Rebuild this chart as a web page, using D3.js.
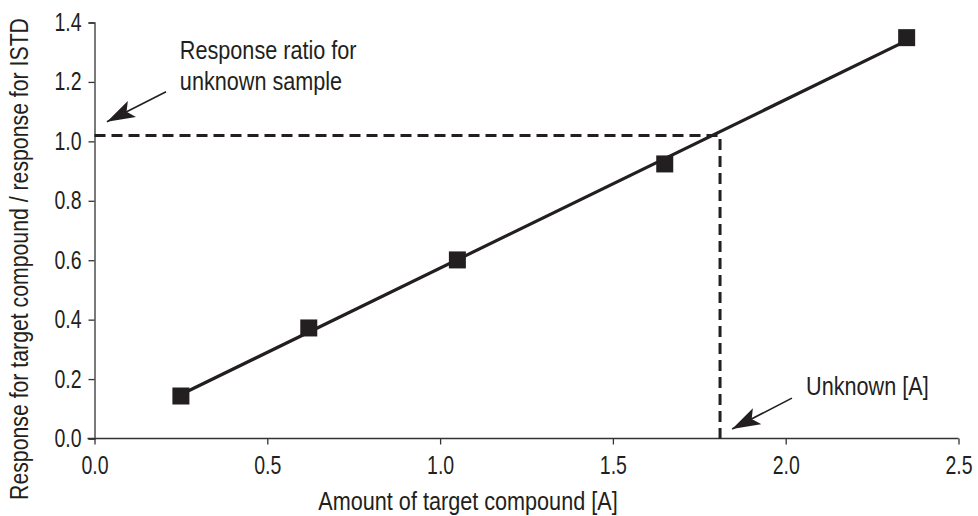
<!DOCTYPE html>
<html>
<head>
<meta charset="utf-8">
<script src="https://cdn.jsdelivr.net/npm/d3@7"></script>
<style>
  body { margin: 0; background: #fff; }
  svg { display: block; font-family: "Liberation Sans", Arial, sans-serif; }
</style>
</head>
<body>
<svg id="chart" width="978" height="516"></svg>
<script>
// calibration standards
const amounts = [0.25, 0.62, 1.05, 1.65, 2.35];
const ratios = [0.143, 0.372, 0.601, 0.924, 1.349];

// unknown sample
const unknownAmount = 1.81;
const unknownRatio = 1.02;

const xTicks = [0, 0.5, 1.0, 1.5, 2.0, 2.5];
const yTicks = [0, 0.2, 0.4, 0.6, 0.8, 1.0, 1.2, 1.4];

const ink = "#231f20";
const width = 978, height = 516;
const margin = {top: 22.5, right: 19.5, bottom: 77.5, left: 94.5};
const fs = "25px";

const svg = d3.select("#chart");

const x = d3.scaleLinear().domain([0, 2.5]).range([margin.left, width - margin.right]);
const y = d3.scaleLinear().domain([0, 1.4]).range([height - margin.bottom, margin.top]);

// the reference uses a condensed face; squeeze Liberation Sans to match
function narrow(sel, k) {
  sel.each(function() {
    const w = this.getComputedTextLength();
    d3.select(this).attr("textLength", w * k).attr("lengthAdjust", "spacingAndGlyphs");
  });
}

// least squares line through the standards
const mx = d3.mean(amounts), my = d3.mean(ratios);
const slope = d3.sum(amounts, (a, i) => (a - mx) * (ratios[i] - my)) / d3.sum(amounts, a => (a - mx) ** 2);
const icpt = my - slope * mx;

// axes
const xAxis = svg.append("g")
    .attr("transform", `translate(0,${y(0)})`)
    .call(d3.axisBottom(x).tickValues(xTicks).tickFormat(d3.format(".1f")).tickSizeOuter(0).tickSize(6).tickPadding(12));
const yAxis = svg.append("g")
    .attr("transform", `translate(${x(0)},0)`)
    .call(d3.axisLeft(y).tickValues(yTicks).tickFormat(d3.format(".1f")).tickSizeOuter(0).tickSize(6).tickPadding(7));

[xAxis, yAxis].forEach(a => {
  a.select(".domain").attr("stroke", "#333").attr("stroke-width", 1.3);
  a.selectAll(".tick line").attr("stroke", "#333").attr("stroke-width", 1.3);
  a.selectAll(".tick text").attr("fill", ink).style("font-size", fs)
    .style("font-family", "'Liberation Sans', Arial, sans-serif")
    .call(narrow, 0.78);
});
xAxis.select(".domain").attr("d", `M${x(0) - 7},0H${x(2.5)}`);

// axis titles
svg.append("text")
    .attr("x", 468)
    .attr("y", 510)
    .attr("text-anchor", "middle")
    .attr("fill", ink)
    .style("font-size", fs)
    .text("Amount of target compound [A]")
    .call(narrow, 0.865);

svg.append("text")
    .attr("transform", `translate(28,259) rotate(-90)`)
    .attr("text-anchor", "middle")
    .attr("fill", ink)
    .style("font-size", fs)
    .text("Response for target compound / response for ISTD")
    .call(narrow, 0.85);

// dashed read-off lines
svg.append("path")
    .attr("d", `M${x(0)},${y(unknownRatio)}H${x(unknownAmount)}V${y(0)}`)
    .attr("fill", "none")
    .attr("stroke", ink)
    .attr("stroke-width", 3)
    .attr("stroke-dasharray", "11,6");

// calibration line
const xs = d3.extent(amounts);
svg.append("line")
    .attr("x1", x(xs[0])).attr("y1", y(icpt + slope * xs[0]))
    .attr("x2", x(xs[1])).attr("y2", y(icpt + slope * xs[1]))
    .attr("stroke", ink)
    .attr("stroke-width", 3.2);

// standards
const s = 17;
svg.append("g").selectAll("rect")
  .data(amounts)
  .join("rect")
    .attr("x", d => x(d) - s / 2)
    .attr("y", (d, i) => y(ratios[i]) - s / 2)
    .attr("width", s)
    .attr("height", s)
    .attr("fill", ink);

// annotations
svg.append("defs").append("marker")
    .attr("id", "head")
    .attr("markerUnits", "userSpaceOnUse")
    .attr("viewBox", "-28 -10 30 20")
    .attr("refX", 0).attr("refY", 0)
    .attr("markerWidth", 30).attr("markerHeight", 20)
    .attr("orient", "auto")
  .append("path")
    .attr("d", "M0,0L-28,-9L-22,0L-28,9Z")
    .attr("fill", ink);

function arrow(x1, y1, x2, y2) {
  svg.append("line")
      .attr("x1", x(x1)).attr("y1", y(y1))
      .attr("x2", x(x2)).attr("y2", y(y2))
      .attr("stroke", ink)
      .attr("stroke-width", 1.6)
      .attr("marker-end", "url(#head)");
}

arrow(0.207, 1.167, 0.036, 1.066);
arrow(2.018, 0.136, 1.845, 0.032);

function note(px, py, str) {
  svg.append("text")
      .attr("x", px)
      .attr("y", py)
      .attr("fill", ink)
      .style("font-size", fs)
      .text(str)
      .call(narrow, 0.865);
}
note(x(0.247), 59, "Response ratio for");
note(x(0.247), 90, "unknown sample");
note(x(2.059), 395, "Unknown [A]");
</script>
</body>
</html>
